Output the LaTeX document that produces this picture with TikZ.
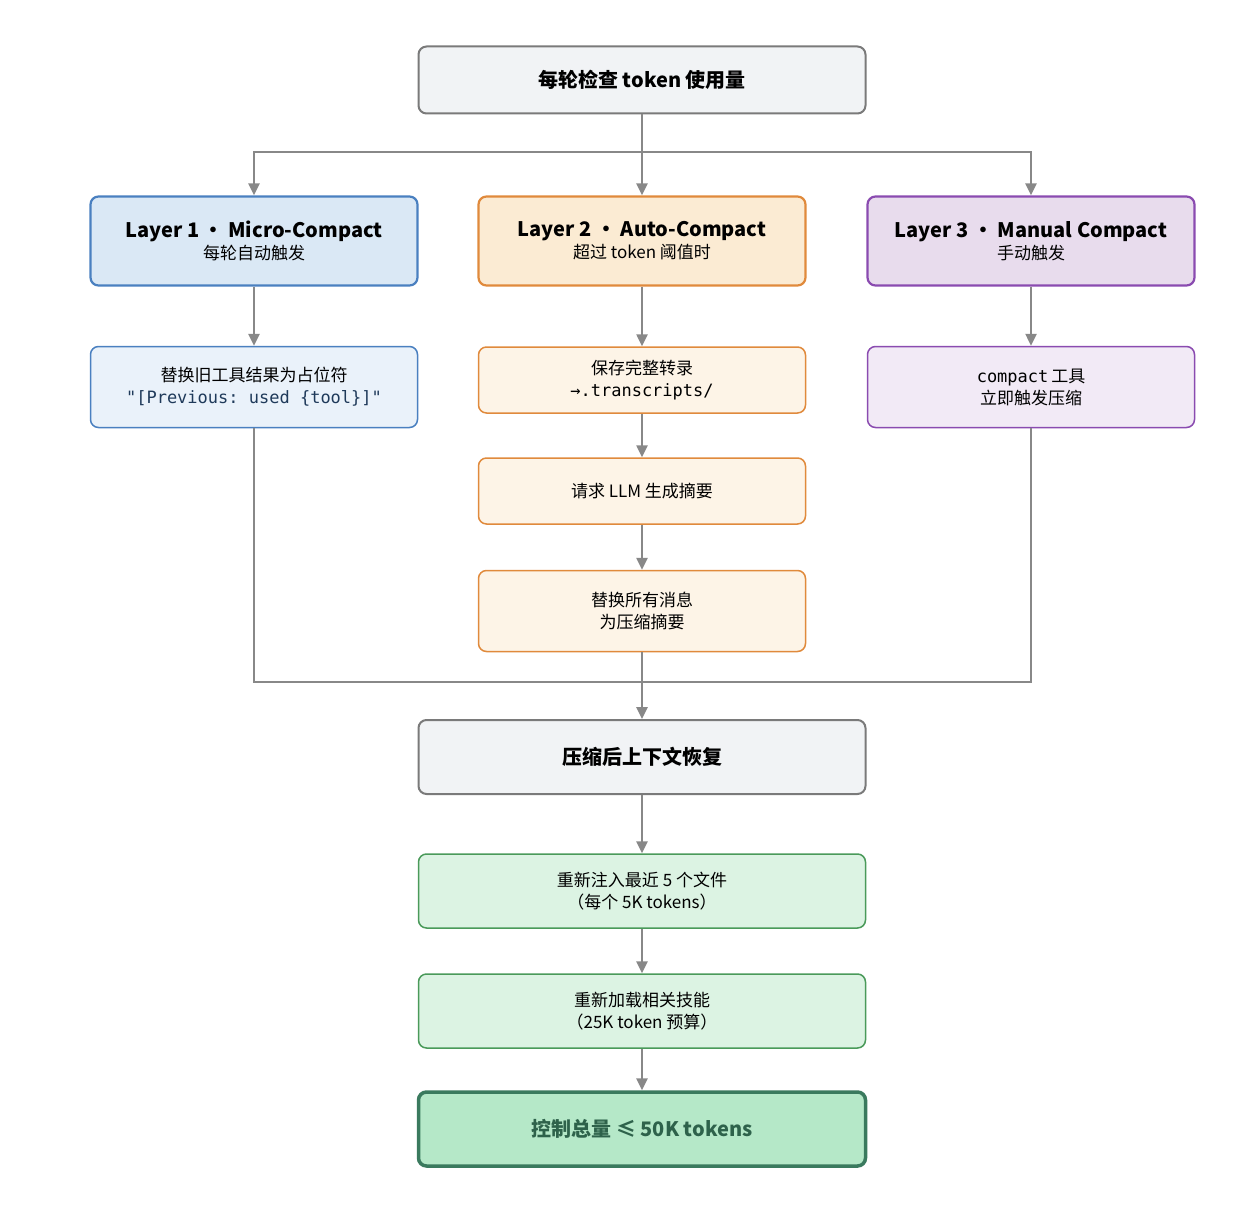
\documentclass[tikz,border=0pt]{standalone}
\usepackage{fontspec}
\setmainfont{Noto Sans CJK SC}
\setmonofont{DejaVu Sans Mono}
\newfontfamily\cjk{Noto Sans CJK SC}
\usetikzlibrary{arrows.meta}

\definecolor{grayfill}{HTML}{F1F3F5}
\definecolor{graydraw}{HTML}{7A7A7A}
\definecolor{bluefill}{HTML}{DAE8F5}
\definecolor{bluedraw}{HTML}{4A80C0}
\definecolor{bluelite}{HTML}{EAF2FA}
\definecolor{orangefill}{HTML}{FBEBD3}
\definecolor{orangedraw}{HTML}{E08A3C}
\definecolor{orangelite}{HTML}{FDF4E7}
\definecolor{purplefill}{HTML}{E8DCED}
\definecolor{purpledraw}{HTML}{8A4BB0}
\definecolor{purplelite}{HTML}{F2EAF6}
\definecolor{greenfill}{HTML}{DCF3E3}
\definecolor{greendraw}{HTML}{4A9A5A}
\definecolor{finalfill}{HTML}{B5E8C8}
\definecolor{finaldraw}{HTML}{3A7A5E}
\definecolor{arrowgray}{HTML}{888888}
\definecolor{codeblue}{HTML}{1F3A5A}

\tikzset{
    every picture/.style={line width=1.5pt},
    box/.style={rectangle, rounded corners=8pt, align=center, inner sep=0pt,
        font=\fontsize{17}{22}\selectfont},
    graybox/.style={box, fill=grayfill, draw=graydraw, line width=2pt,
        minimum width=447pt, font=\fontsize{20}{24}\selectfont\bfseries},
    layer/.style={box, line width=2.2pt, minimum width=327pt, minimum height=89pt},
    substep/.style={box, minimum width=327pt},
    gstep/.style={box, fill=greenfill, draw=greendraw, minimum width=447pt, minimum height=74pt},
    arr/.style={-{Triangle[length=12pt,width=11pt]}, draw=arrowgray, line width=2.5pt},
    ln/.style={draw=arrowgray, line width=2.5pt},
}

\begin{document}
\begin{tikzpicture}[x=1pt, y=-1pt]
    \useasboundingbox (0,0) rectangle (1258,1212);

    \node[graybox, minimum height=67pt] (check) at (642,80) {每轮检查 token 使用量};

    \node[layer, fill=bluefill, draw=bluedraw] (l1) at (254,241)
        {{\fontsize{20}{24}\selectfont\bfseries Layer 1 · Micro-Compact}\\每轮自动触发};
    \node[layer, fill=orangefill, draw=orangedraw] (l2) at (642,241)
        {{\fontsize{20}{24}\selectfont\bfseries Layer 2 · Auto-Compact}\\超过 token 阈值时};
    \node[layer, fill=purplefill, draw=purpledraw] (l3) at (1031,241)
        {{\fontsize{20}{24}\selectfont\bfseries Layer 3 · Manual Compact}\\手动触发};

    \node[substep, fill=bluelite, draw=bluedraw, minimum height=81pt] (replace) at (254,387)
        {替换旧工具结果为占位符\\{\ttfamily\color{codeblue}"[Previous: used \{tool\}]"}};
    \node[substep, fill=orangelite, draw=orangedraw, minimum height=66pt] (save) at (642,380)
        {保存完整转录\\{\ttfamily →.transcripts/}};
    \node[substep, fill=orangelite, draw=orangedraw, minimum height=66pt] (ask) at (642,491)
        {请求 LLM 生成摘要};
    \node[substep, fill=orangelite, draw=orangedraw, minimum height=81pt] (swap) at (642,611)
        {替换所有消息\\为压缩摘要};
    \node[substep, fill=purplelite, draw=purpledraw, minimum height=81pt] (manual) at (1031,387)
        {{\ttfamily compact}\,工具\\立即触发压缩};

    \node[graybox, minimum height=74pt] (recover) at (642,757) {压缩后上下文恢复};
    \node[gstep] (files) at (642,891) {重新注入最近 5 个文件\\（每个 5K tokens）};
    \node[gstep] (skills) at (642,1011) {重新加载相关技能\\（25K token 预算）};
    \node[box, fill=finalfill, draw=finaldraw, line width=3.5pt, minimum width=447pt,
        minimum height=74pt, font=\fontsize{20}{24}\selectfont\bfseries,
        text=finaldraw!80!black] (total) at (642,1129) {控制总量 ≤ 50K tokens};

    % split
    \coordinate (split) at (642,152);
    \draw[ln] (check) -- (split);
    \draw[arr] (split) -| (l1);
    \draw[arr] (split) -- (l2);
    \draw[arr] (split) -| (l3);

    \draw[arr] (l1) -- (replace);
    \draw[arr] (l2) -- (save);
    \draw[arr] (save) -- (ask);
    \draw[arr] (ask) -- (swap);
    \draw[arr] (l3) -- (manual);

    % merge
    \coordinate (merge) at (642,682);
    \draw[ln] (replace) |- (merge);
    \draw[ln] (manual) |- (merge);
    \draw[arr] (swap) -- (recover);

    \draw[arr] (recover) -- (files);
    \draw[arr] (files) -- (skills);
    \draw[arr] (skills) -- (total);
\end{tikzpicture}
\end{document}
